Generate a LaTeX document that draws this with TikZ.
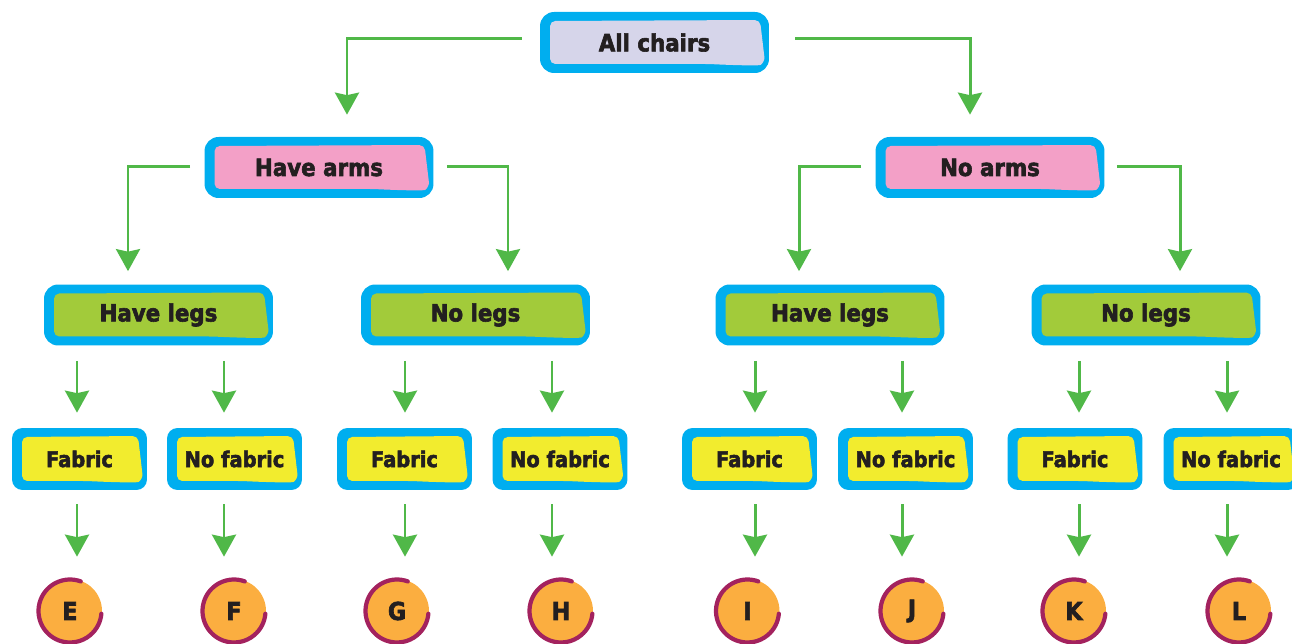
\documentclass[tikz,border=0pt]{standalone}
\usepackage{fontspec}
\setmainfont{DejaVu Sans}[BoldFeatures={FakeBold=2.5, FakeStretch=0.9}]
\usetikzlibrary{arrows.meta,positioning,calc}
\definecolor{chairblue}{RGB}{0,174,239}
\definecolor{chairlilac}{RGB}{214,213,234}
\definecolor{chairpink}{RGB}{243,160,199}
\definecolor{chairgreen}{RGB}{162,203,58}
\definecolor{chairyellow}{RGB}{242,236,46}
\definecolor{arrowgreen}{RGB}{80,184,72}
\definecolor{letterorange}{RGB}{251,174,64}
\definecolor{ringred}{RGB}{163,34,94}
\definecolor{inkdark}{RGB}{35,31,32}
\tikzset{
    choice/.style={rectangle, fill=chairblue, rounded corners=8pt, minimum width=4.58cm, minimum height=1.22cm, inner sep=0pt, text=inkdark, font=\fontsize{13.5}{16}\selectfont\bfseries,
        path picture={\fill[#1, rounded corners=3pt]
            ($(path picture bounding box.north west)+(10,9)$) --
            ($(path picture bounding box.north east)+(-9,8)$) --
            ($(path picture bounding box.south east)+(-4,-11)$) .. controls +(-6,4) and +(20,1) ..
            ($(path picture bounding box.south east)+(-60,-9)$) --
            ($(path picture bounding box.south west)+(10,-9)$) -- cycle;}},
    fabricbox/.style={choice=#1, minimum width=2.7cm, minimum height=1.24cm, rounded corners=6pt, font=\fontsize{12.3}{14}\selectfont\bfseries},
    line/.style={draw=arrowgreen, line width=1.7pt, -{Stealth[length=0.44cm, width=0.48cm, inset=0.05cm]}},
    result/.style={circle, fill=letterorange, minimum size=1.28cm, inner sep=0pt, text=inkdark, font=\fontsize{14}{16}\selectfont\bfseries},
    ring/.style={draw=ringred, line width=2.4pt, line cap=round}
}
\begin{document}
\begin{tikzpicture}[x=0.02cm, y=-0.02cm]
    \useasboundingbox (0,0) rectangle (1292,644);

    % Top of the tree
    \node [choice=chairlilac] (all) at (654.5,42.5) {All chairs};

    % Arms
    \node [choice=chairpink] (arms) at (319,167.5) {Have arms};
    \node [choice=chairpink] (noarms) at (990,167.5) {No arms};

    % Legs
    \node [choice=chairgreen] (legsA) at (158.5,315) {Have legs};
    \node [choice=chairgreen] (nolegsA) at (475.5,315) {No legs};
    \node [choice=chairgreen] (legsB) at (830,315) {Have legs};
    \node [choice=chairgreen] (nolegsB) at (1146,315) {No legs};

    % Connections
    \draw [line, shorten <=0.36cm, shorten >=0.44cm] ([shift={(0,-4)}]all.west) -| ([shift={(28,0)}]arms.north);
    \draw [line, shorten <=0.52cm, shorten >=0.44cm] ([shift={(0,-4)}]all.east) -| ([shift={(-20,0)}]noarms.north);
    \draw [line, shorten <=0.28cm, shorten >=0.26cm] ([shift={(0,-1)}]arms.west) -| ([shift={(-30.5,0)}]legsA.north);
    \draw [line, shorten <=0.26cm, shorten >=0.26cm] ([shift={(0,-1)}]arms.east) -| ([shift={(32.5,0)}]nolegsA.north);
    \draw [line, shorten <=0.28cm, shorten >=0.26cm] ([shift={(0,-1)}]noarms.west) -| ([shift={(-31,0)}]legsB.north);
    \draw [line, shorten <=0.24cm, shorten >=0.26cm] ([shift={(0,-1)}]noarms.east) -| ([shift={(34,0)}]nolegsB.north);

    % Fabric and the chairs that end each branch
    \foreach \n/\p/\bx/\ax/\cx/\kind/\lab in {
        1/legsA/79.5/77/70/Fabric/E,
        2/legsA/234.5/224/234/No fabric/F,
        3/nolegsA/404.5/405/397/Fabric/G,
        4/nolegsA/560/552/561/No fabric/H,
        5/legsB/749.5/755/747.5/Fabric/I,
        6/legsB/905.5/902/912/No fabric/J,
        7/nolegsB/1075/1079/1074/Fabric/K,
        8/nolegsB/1231/1227/1239/No fabric/L}
    {
        \node [fabricbox=chairyellow] (fab\n) at (\bx,459) {\kind};
        \node [result] (res\n) at (\cx,611) {\lab};
        \draw [ring] ($(res\n)+(70:0.63cm)$) arc[start angle=70, end angle=355, radius=0.63cm];
        \coordinate (col\n) at (\ax,0);
        \draw [line, shorten <=0.3cm, shorten >=0.3cm] (\p.south -| col\n) -- (fab\n.north -| col\n);
        \draw [line, shorten <=0.28cm, shorten >=0.44cm] (fab\n.south -| col\n) -- (res\n.north -| col\n);
    }
\end{tikzpicture}
\end{document}
